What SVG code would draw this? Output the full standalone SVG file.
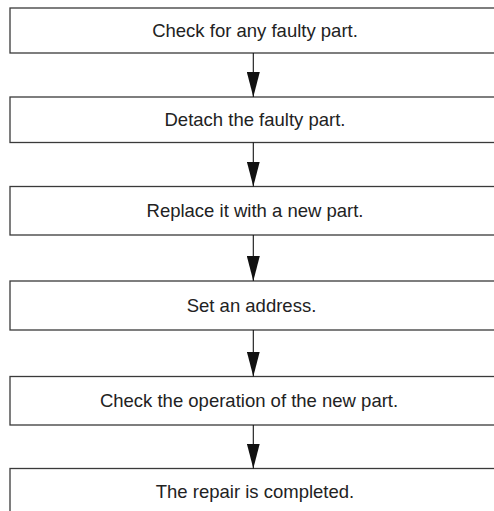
<svg xmlns="http://www.w3.org/2000/svg" width="494" height="511" viewBox="0 0 494 511">
<style>
.box{fill:#fff;stroke:#3a3a3a;stroke-width:1.3}
.lbl{font-family:"Liberation Sans",Arial,sans-serif;font-size:18.5px;fill:#222;text-anchor:middle}
.conn{stroke:#111;stroke-width:1.1;fill:none}
</style>
<defs>
<marker id="ah" markerUnits="userSpaceOnUse" viewBox="0 0 25 13" refX="25" refY="6.5" markerWidth="25" markerHeight="13" orient="auto">
<path d="M0,0 L25,6.5 L0,13 Z" fill="#111"/>
</marker>
</defs>
<rect width="494" height="511" fill="#fff"/>
<g id="n1"><rect class="box" x="10" y="8" width="500" height="45"/><text class="lbl" x="255" y="37">Check for any faulty part.</text></g>
<g id="n2"><rect class="box" x="10" y="97" width="500" height="45.5"/><text class="lbl" x="255" y="126.3">Detach the faulty part.</text></g>
<g id="n3"><rect class="box" x="10" y="186.5" width="500" height="48.5"/><text class="lbl" x="255" y="217.4">Replace it with a new part.</text></g>
<g id="n4"><rect class="box" x="10" y="281" width="500" height="49"/><text class="lbl" x="251.5" y="312">Set an address.</text></g>
<g id="n5"><rect class="box" x="10" y="376.5" width="500" height="48.5"/><text class="lbl" x="249" y="407.3">Check the operation of the new part.</text></g>
<g id="n6"><rect class="box" x="10" y="468.5" width="500" height="60"/><text class="lbl" x="255" y="497.5">The repair is completed.</text></g>
<g id="connectors">
<line class="conn" x1="253.3" y1="53" x2="253.3" y2="97" marker-end="url(#ah)"/>
<line class="conn" x1="253.3" y1="142.5" x2="253.3" y2="186.5" marker-end="url(#ah)"/>
<line class="conn" x1="253.3" y1="235" x2="253.3" y2="281" marker-end="url(#ah)"/>
<line class="conn" x1="253.3" y1="330" x2="253.3" y2="376.5" marker-end="url(#ah)"/>
<line class="conn" x1="253.3" y1="425" x2="253.3" y2="468.5" marker-end="url(#ah)"/>
</g>
</svg>
